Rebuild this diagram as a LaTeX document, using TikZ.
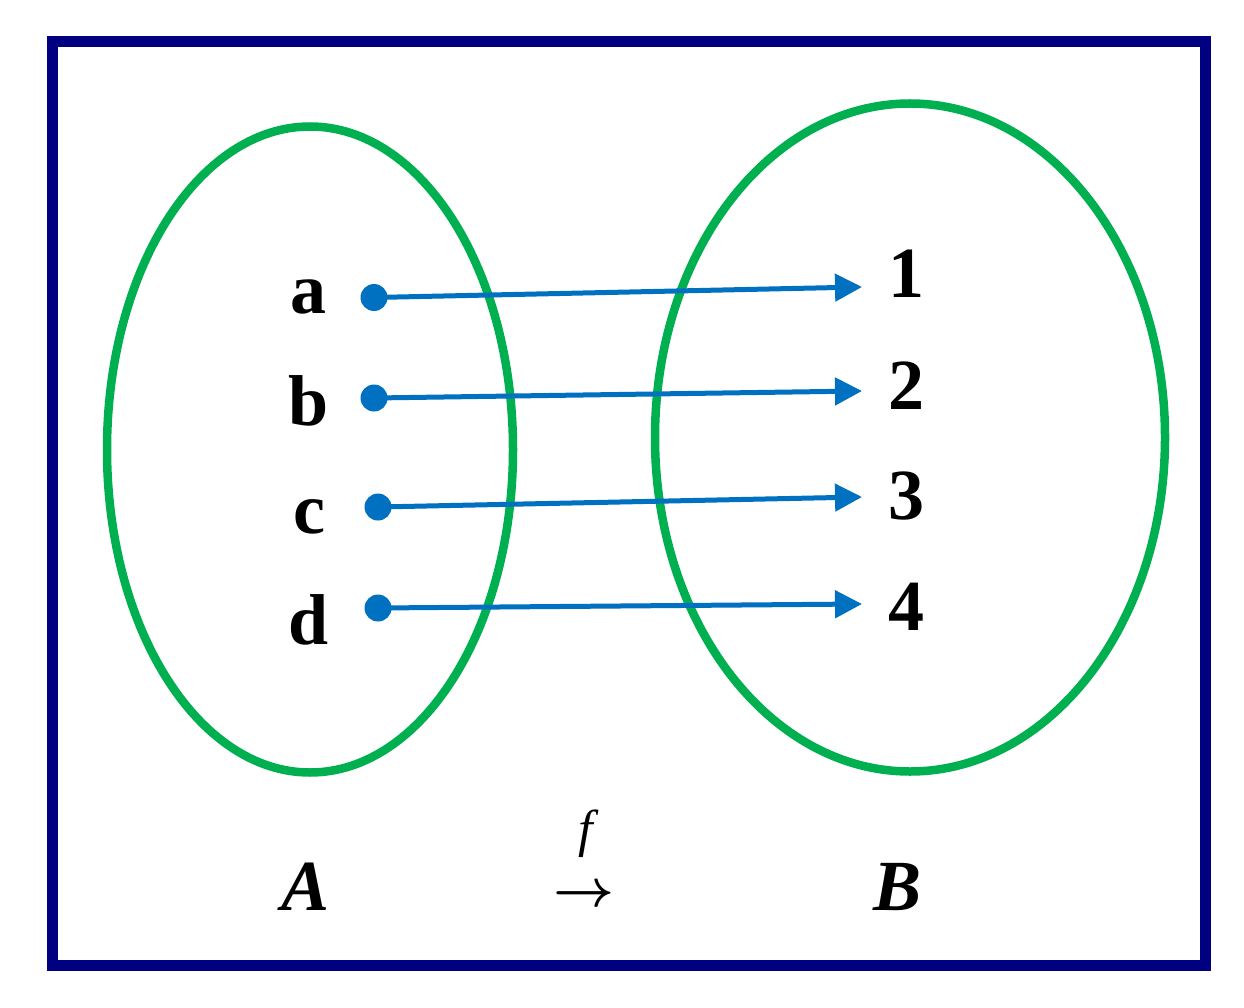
\documentclass[tikz,border=0pt]{standalone}
\usepackage{fontspec}
\setmainfont{Liberation Serif}
\usetikzlibrary{arrows.meta}
\definecolor{frameblue}{RGB}{0,0,128}
\definecolor{setgreen}{RGB}{0,176,80}
\definecolor{mapblue}{RGB}{0,112,192}
\tikzset{
  setellipse/.style={draw=setgreen, line width=8.5pt},
  elem/.style={font=\fontsize{72}{72}\selectfont\bfseries, inner sep=0pt, anchor=base},
  setname/.style={font=\fontsize{72}{72}\selectfont\bfseries\itshape, inner sep=0pt, anchor=base},
  dotnode/.style={circle, fill=mapblue, minimum size=27pt, inner sep=0pt},
  maparrow/.style={draw=mapblue, line width=5pt, -{Triangle[length=27pt,width=27pt]}}
}
\begin{document}
\begin{tikzpicture}[x=1pt,y=-1pt]
\useasboundingbox (0,0) rectangle (1244,1008);
\fill[white] (0,0) rectangle (1244,1008);
\draw[frameblue, line width=11pt] (52.5,41.5) rectangle (1205.5,965.5);
% sets
\draw[setellipse] (310,449.5) ellipse [x radius=203, y radius=323];
\draw[setellipse] (910,437.5) ellipse [x radius=255, y radius=334];
% elements of A
\node[elem] (la) at (308,313) {a};
\node[elem] (lb) at (309,425) {b};
\node[elem] (lc) at (309,533) {c};
\node[elem] (ld) at (309,644) {d};
% elements of B
\node[elem] (l1) at (906,297) {1};
\node[elem] (l2) at (906,409) {2};
\node[elem] (l3) at (906,519) {3};
\node[elem] (l4) at (906,630) {4};
% dots
\node[dotnode] (da) at (374,297.5) {};
\node[dotnode] (db) at (374,398) {};
\node[dotnode] (dc) at (378,507) {};
\node[dotnode] (dd) at (378,608) {};
% tips
\coordinate (t1) at (862,287);
\coordinate (t2) at (862,391);
\coordinate (t3) at (862,497);
\coordinate (t4) at (862,604);
\draw[maparrow] (da.center) -- (t1);
\draw[maparrow] (db.center) -- (t2);
\draw[maparrow] (dc.center) -- (t3);
\draw[maparrow] (dd.center) -- (t4);
% set names
\node[setname] (nA) at (306,910) {A};
\node[setname] (nB) at (897,910) {B};
% function label
\node[font=\fontsize{52}{52}\selectfont\itshape, inner sep=0pt, anchor=base] (f) at (586,846) {f};
\node[inner sep=0pt] (arr) at (584,896) {\scalebox{5.3}{\boldmath$\rightarrow$}};
\end{tikzpicture}
\end{document}
